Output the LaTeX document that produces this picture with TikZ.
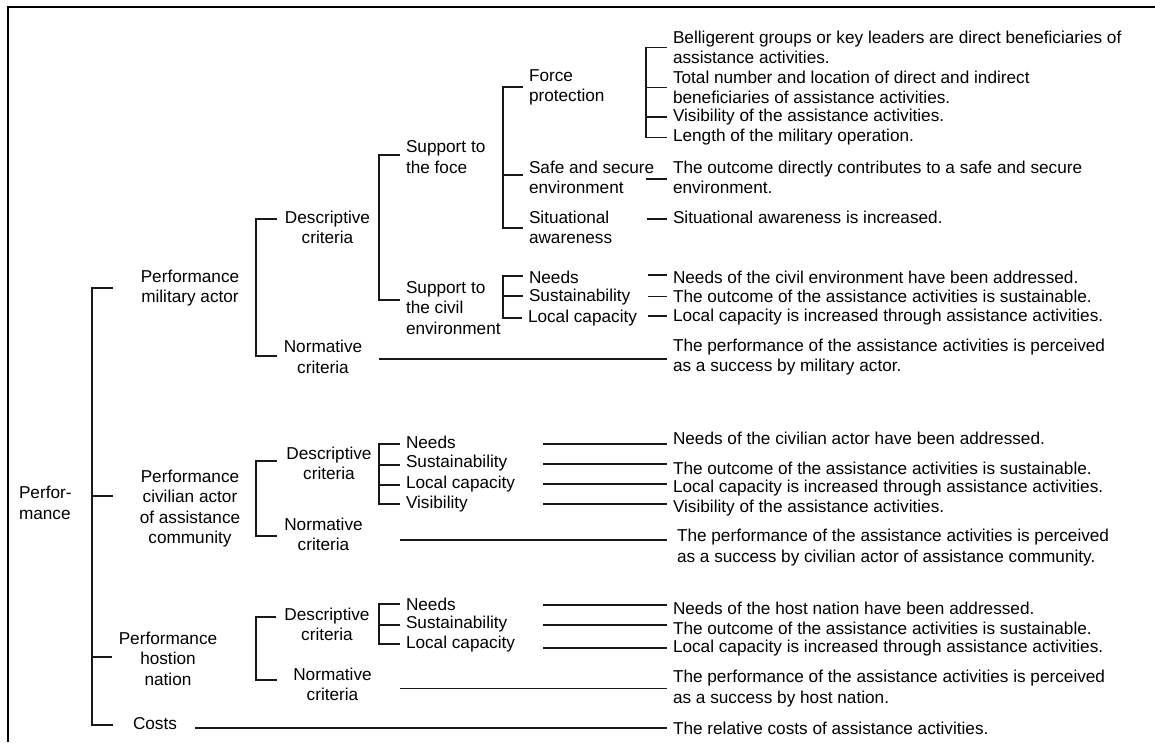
\documentclass[tikz,border=0pt]{standalone}
\usepackage{fontspec}
\setmainfont{Liberation Sans}
\begin{document}
\begin{tikzpicture}[x=1pt,y=-1pt,
  every node/.style={inner sep=0pt, outer sep=0pt, font=\fontsize{17.2}{20.5}\selectfont},
  lbl/.style={align=center},
  lft/.style={anchor=west, align=left},
  link/.style={line width=1.2pt, black!90},
  frame/.style={line width=2.2pt}]
\useasboundingbox (0,0) rectangle (1155,742);
% frame
\draw[frame] (8,742) -- (8,7) -- (1155,7);

% ---------- tree labels ----------
\node[lft] (perf) at (19,503) {Perfor-\\mance};
\node[lbl] (pmil) at (190,288) {Performance\\military actor};
\node[lbl] (pciv) at (190,508.5) {Performance\\civilian actor\\of assistance\\community};
\node[lbl] (phost) at (168,658.5) {Performance\\hostion\\nation};
\node[lft] (costs) at (133,724) {Costs};

\node[lbl] (dmil) at (327.5,227.5) {Descriptive\\criteria};
\node[lbl] (nmil) at (323,357) {Normative\\criteria};
\node[lbl] (dciv) at (329,463.5) {Descriptive\\criteria};
\node[lbl] (nciv) at (323.5,534.5) {Normative\\criteria};
\node[lbl] (dhost) at (327,624.5) {Descriptive\\criteria};
\node[lbl] (nhost) at (332.5,684.5) {Normative\\criteria};

\node[lft] (sforce) at (406,157) {Support to\\the foce};
\node[lft] (scivil) at (406,308) {Support to\\the civil\\environment};
\node[lft] (fp) at (529,87.5) {Force\\protection};
\node[lft] (sse) at (529,177.5) {Safe and secure\\environment};
\node[lft] (sa) at (529,227.5) {Situational\\awareness};
\node[lft] (cn1) at (529,277) {Needs};
\node[lft] (cs1) at (529,297) {Sustainability};
\node[lft] (cl1) at (528,318) {Local capacity};

\node[lft] (cn2) at (406,442) {Needs};
\node[lft] (cs2) at (406,463) {Sustainability};
\node[lft] (cl2) at (406,484) {Local capacity};
\node[lft] (cv2) at (406,504) {Visibility};

\node[lft] (cn3) at (406,604) {Needs};
\node[lft] (cs3) at (406,624) {Sustainability};
\node[lft] (cl3) at (406,644) {Local capacity};

% ---------- criteria texts ----------
\node[lft] (r1) at (673,47.5) {Belligerent groups or key leaders are direct beneficiaries of\\assistance activities.};
\node[lft] (r2) at (673,87.5) {Total number and location of direct and indirect\\beneficiaries of assistance activities.};
\node[lft] (r3) at (673,117) {Visibility of the assistance activities.};
\node[lft] (r4) at (673,137.5) {Length of the military operation.};
\node[lft] (r5) at (673,177.5) {The outcome directly contributes to a safe and secure\\environment.};
\node[lft] (r6) at (673,217.5) {Situational awareness is increased.};
\node[lft] (r7) at (673,277) {Needs of the civil environment have been addressed.};
\node[lft] (r8) at (673,296.5) {The outcome of the assistance activities is sustainable.};
\node[lft] (r9) at (673,317.5) {Local capacity is increased through assistance activities.};
\node[lft] (r10) at (673,357) {The performance of the assistance activities is perceived\\as a success by military actor.};
\node[lft] (r11) at (673,438) {Needs of the civilian actor have been addressed.};
\node[lft] (r12) at (673,468) {The outcome of the assistance activities is sustainable.};
\node[lft] (r13) at (673,488) {Local capacity is increased through assistance activities.};
\node[lft] (r14) at (673,508) {Visibility of the assistance activities.};
\node[lft] (r15) at (677,547.5) {The performance of the assistance activities is perceived\\as a success by civilian actor of assistance community.};
\node[lft] (r16) at (673,608) {Needs of the host nation have been addressed.};
\node[lft] (r17) at (673,628) {The outcome of the assistance activities is sustainable.};
\node[lft] (r18) at (673,648) {Local capacity is increased through assistance activities.};
\node[lft] (r19) at (673,688.5) {The performance of the assistance activities is perceived\\as a success by host nation.};
\node[lft] (r20) at (673,728) {The relative costs of assistance activities.};

% ---------- bracket taps ----------
\coordinate (k-pmil) at (113,288);
\coordinate (k-pciv) at (113,496);
\coordinate (k-phost) at (112,657);
\coordinate (k-costs) at (113,725);
\coordinate (k-dmil) at (277,219);
\coordinate (k-nmil) at (277,356);
\coordinate (k-sforce) at (400,155);
\coordinate (k-scivil) at (400,300);
\coordinate (k-fp) at (523,87);
\coordinate (k-sse) at (523,175);
\coordinate (k-sa) at (523,228);
\coordinate (k-dciv) at (277,461);
\coordinate (k-nciv) at (277,536);
\coordinate (k-dhost) at (276,617);
\coordinate (k-nhost) at (277,680);

% Performance
\draw[link] (k-pmil) -- ++(-21,0) |- (k-costs);
\draw[link] (k-pciv) -- ++(-21,0);
\draw[link] (k-phost) -- ++(-20,0);
% military actor
\draw[link] (k-dmil) -- ++(-21,0) |- (k-nmil);
\draw[link] (k-sforce) -- ++(-21,0) |- (k-scivil);
\draw[link] (k-fp) -- ++(-20,0) |- (k-sa);
\draw[link] (k-sse) -- ++(-20,0);
\draw[link] ([xshift=-6]r1.west) -- ++(-21,0) |- ([xshift=-6]r4.west);
\draw[link] ([xshift=-6]r2.west) -- ++(-21,0);
\draw[link] ([xshift=-6]r3.west) -- ++(-21,0);
\draw[link] ([xshift=-6]r5.west) ++(0,1.5) -- ++(-21,0);
\draw[link] ([xshift=-6]r6.west) ++(0,1.5) -- ++(-20,0);
\draw[link] ([xshift=-6]cn1.west) ++(0,-1) -- ++(-20,0) |- ([xshift=-6]cl1.west);
\draw[link] ([xshift=-6]cs1.west) ++(0,-1) -- ++(-20,0);
\draw[link] ([xshift=-6]r7.west) ++(0,-2) -- ++(-19,0);
\draw[link] ([xshift=-6]r8.west) -- ++(-19,0);
\draw[link] ([xshift=-6]r9.west) ++(0,-1.5) -- ++(-19,0);
\draw[link] ([xshift=-6]r10.west) ++(0,2) -- ++(-288,0);
% civilian actor
\draw[link] (k-dciv) -- ++(-21,0) |- (k-nciv);
\draw[link] ([xshift=-6]cn2.west) ++(0,2) -- ++(-21,0) |- ([xshift=-6]cv2.west);
\draw[link] ([xshift=-6]cs2.west) ++(0,2) -- ++(-21,0);
\draw[link] ([xshift=-6]cl2.west) ++(0,1) -- ++(-21,0);
\draw[link] ([xshift=-6]r11.west) ++(0,6) -- ++(-124,0);
\draw[link] ([xshift=-6]r12.west) ++(0,-4) -- ++(-124,0);
\draw[link] ([xshift=-6]r13.west) ++(0,-4) -- ++(-124,0);
\draw[link] ([xshift=-6]r14.west) ++(0,-4) -- ++(-124,0);
\draw[link] ([xshift=-10]r15.west) ++(0,-7.5) -- ++(-267,0);
% host nation
\draw[link] (k-dhost) -- ++(-20,0) |- (k-nhost);
\draw[link] ([xshift=-6]cn3.west) -- ++(-21,0) |- ([xshift=-6]cl3.west);
\draw[link] ([xshift=-6]cs3.west) ++(0,1) -- ++(-21,0);
\draw[link] ([xshift=-6]r16.west) ++(0,-3) -- ++(-124,0);
\draw[link] ([xshift=-6]r17.west) ++(0,-3) -- ++(-124,0);
\draw[link] ([xshift=-6]r18.west) -- ++(-124,0);
\draw[link] ([xshift=-6]r19.west) -- ++(-267,0);
% costs
\draw[link] ([xshift=-6]r20.west) -- ++(-472,0);
\end{tikzpicture}
\end{document}
